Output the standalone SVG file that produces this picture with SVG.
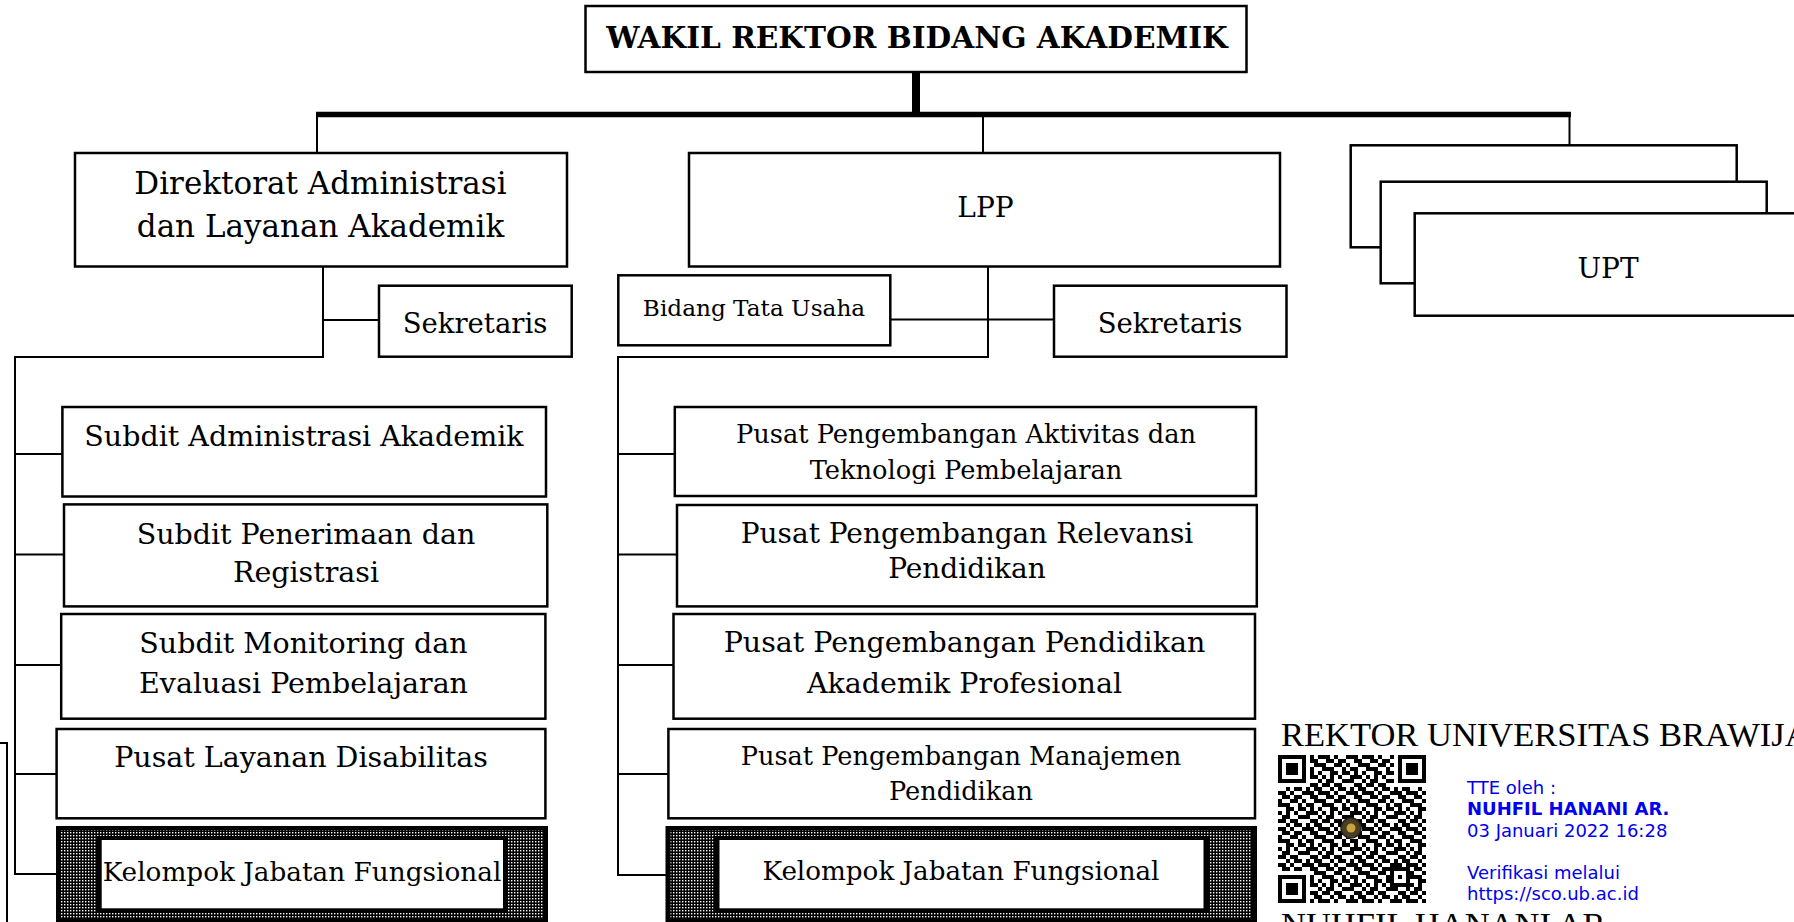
<svg xmlns="http://www.w3.org/2000/svg" width="1794" height="922" viewBox="0 0 1794 922">
<style>
.box{fill:#fff;stroke:#000;stroke-width:2.5}
.ln{stroke:#000;stroke-width:2;fill:none}
.t{font-family:"DejaVu Serif",serif;fill:#000;text-anchor:middle}
.s28{font-size:28.5px}
.s25{font-size:25.7px}
.sig{font-family:"Liberation Serif",serif;font-size:34.5px;fill:#000}
.blue{font-family:"DejaVu Sans",sans-serif;font-size:18px;fill:#0000ee}
</style>
<defs>
<pattern id="ht" width="3" height="3" patternUnits="userSpaceOnUse"><rect width="3" height="3" fill="#000"/><rect x="1" y="1" width="1.4" height="1.4" fill="#fff"/></pattern>
<pattern id="qr" width="44" height="36" patternUnits="userSpaceOnUse" x="1278" y="755"><path fill="#000" d="M0 0h8v4h-8z M12 0h4v4h-4z M24 0h12v4h-12z M40 0h4v4h-4z M4 4h8v4h-8z M16 4h8v4h-8z M32 4h8v4h-8z M0 8h4v4h-4z M12 8h8v4h-8z M24 8h4v4h-4z M36 8h8v4h-8z M0 12h12v4h-12z M20 12h4v4h-4z M28 12h8v4h-8z M8 16h8v4h-8z M20 16h8v4h-8z M32 16h4v4h-4z M40 16h4v4h-4z M0 20h4v4h-4z M8 20h4v4h-4z M16 20h4v4h-4z M28 20h12v4h-12z M4 24h8v4h-8z M20 24h12v4h-12z M40 24h4v4h-4z M0 28h8v4h-8z M12 28h8v4h-8z M32 28h8v4h-8z M8 32h4v4h-4z M16 32h8v4h-8z M28 32h4v4h-4z M36 32h8v4h-8z"/></pattern>
</defs>
<rect width="1794" height="922" fill="#fff"/>

<g id="connectors">
<rect x="912" y="72" width="8" height="44" fill="#000"/>
<line x1="316" y1="114.5" x2="1571" y2="114.5" stroke="#000" stroke-width="5.5"/>
<line class="ln" x1="317" y1="117" x2="317" y2="153"/>
<line class="ln" x1="983" y1="117" x2="983" y2="153"/>
<line class="ln" x1="1569.5" y1="117" x2="1569.5" y2="145.5"/>
<path class="ln" d="M323 267V357H14 M323 320H379 M15 357V875"/>
<path class="ln" d="M15 454H62 M15 554.6H64 M15 665H61 M15 774H57 M15 874H56"/>
<path class="ln" d="M988 267V357H617 M890 319.5H1054 M618 357V876"/>
<path class="ln" d="M618 454H675 M618 554.6H677 M618 665H673.5 M618 774H668 M618 875H666"/>
<path class="ln" d="M0 743H7V922"/>
</g>

<g id="wakil">
<rect class="box" x="585.5" y="6" width="661" height="66"/>
<text class="t" x="917" y="48" font-size="29.6" font-weight="bold">WAKIL REKTOR BIDANG AKADEMIK</text>
</g>

<g id="direktorat">
<rect class="box" x="75" y="153" width="492" height="113.5"/>
<text class="t" x="320.5" y="194.3" font-size="31">Direktorat Administrasi</text>
<text class="t" x="320.5" y="237.3" font-size="31">dan Layanan Akademik</text>
</g>

<g id="sekretaris-dir">
<rect class="box" x="379" y="285.7" width="192.7" height="71"/>
<text class="t" x="475" y="333" font-size="27.5">Sekretaris</text>
</g>

<g id="lpp">
<rect class="box" x="689" y="153" width="591" height="113.5"/>
<text class="t" x="985.5" y="217" font-size="28">LPP</text>
</g>

<g id="bidang-tata-usaha">
<rect class="box" x="618.3" y="275.3" width="272" height="70"/>
<text class="t" x="754" y="316" font-size="23.2">Bidang Tata Usaha</text>
</g>

<g id="sekretaris-lpp">
<rect class="box" x="1054" y="285.7" width="232.5" height="71"/>
<text class="t" x="1170" y="333" font-size="27.5">Sekretaris</text>
</g>

<g id="upt">
<rect class="box" x="1350.7" y="145.3" width="386" height="102"/>
<rect class="box" x="1380.7" y="181.7" width="386" height="101.6"/>
<rect class="box" x="1414.7" y="213.3" width="400" height="102.4"/>
<text class="t" x="1608" y="278" font-size="28">UPT</text>
</g>

<g id="subdit-administrasi">
<rect class="box" x="62.4" y="407" width="483.6" height="89.5"/>
<text class="t s28" x="304" y="445.7">Subdit Administrasi Akademik</text>
</g>

<g id="subdit-penerimaan">
<rect class="box" x="64" y="504.4" width="483.3" height="102"/>
<text class="t s28" x="306" y="544.2">Subdit Penerimaan dan</text>
<text class="t s28" x="306" y="582.2">Registrasi</text>
</g>

<g id="subdit-monitoring">
<rect class="box" x="61.2" y="614" width="484.2" height="104.7"/>
<text class="t s28" x="303.5" y="653">Subdit Monitoring dan</text>
<text class="t s28" x="303.5" y="692.8">Evaluasi Pembelajaran</text>
</g>

<g id="pusat-layanan-disabilitas">
<rect class="box" x="56.6" y="729" width="488.8" height="89.3"/>
<text class="t s28" x="301" y="767">Pusat Layanan Disabilitas</text>
</g>

<g id="kelompok-dir">
<rect x="56" y="826" width="492" height="96" fill="#000"/>
<rect x="60" y="830" width="484" height="88" fill="url(#ht)"/>
<rect x="96.7" y="836" width="411.3" height="76.7" fill="#000"/>
<rect x="101.7" y="840" width="401.3" height="68.3" fill="#fff"/>
<text class="t" x="302" y="881" font-size="26.3">Kelompok Jabatan Fungsional</text>
</g>

<g id="pusat-aktivitas">
<rect class="box" x="674.8" y="407" width="581.2" height="89"/>
<text class="t s25" x="966" y="443.3">Pusat Pengembangan Aktivitas dan</text>
<text class="t s25" x="966" y="478.5">Teknologi Pembelajaran</text>
</g>

<g id="pusat-relevansi">
<rect class="box" x="677" y="505" width="579.8" height="101.4"/>
<text class="t" x="967" y="542.5" font-size="28">Pusat Pengembangan Relevansi</text>
<text class="t" x="967" y="577.7" font-size="28">Pendidikan</text>
</g>

<g id="pusat-pendidikan-akademik">
<rect class="box" x="673.5" y="614" width="581.5" height="104.7"/>
<text class="t s28" x="964.5" y="652.4">Pusat Pengembangan Pendidikan</text>
<text class="t s28" x="964.5" y="692.8">Akademik Profesional</text>
</g>

<g id="pusat-manajemen">
<rect class="box" x="668.4" y="729" width="586.6" height="89.3"/>
<text class="t" x="961" y="765.4" font-size="25.6">Pusat Pengembangan Manajemen</text>
<text class="t" x="961" y="800" font-size="25.6">Pendidikan</text>
</g>

<g id="kelompok-lpp">
<rect x="665.5" y="826" width="591.5" height="96" fill="#000"/>
<rect x="670.5" y="830" width="581.5" height="88" fill="url(#ht)"/>
<rect x="713.5" y="836" width="496" height="76.7" fill="#000"/>
<rect x="719.5" y="840" width="484" height="68.3" fill="#fff"/>
<text class="t" x="961" y="880" font-size="26.2">Kelompok Jabatan Fungsional</text>
</g>

<g id="signature">
<text class="sig" x="1281" y="746">REKTOR UNIVERSITAS BRAWIJAYA</text>
<rect x="1278" y="755" width="148" height="148" fill="url(#qr)"/>
<rect x="1278" y="755" width="32" height="32" fill="#fff"/>
<rect x="1278" y="755" width="28" height="28" fill="#000"/>
<rect x="1282" y="759" width="20" height="20" fill="#fff"/>
<rect x="1286" y="763" width="12" height="12" fill="#000"/>
<rect x="1394" y="755" width="32" height="32" fill="#fff"/>
<rect x="1398" y="755" width="28" height="28" fill="#000"/>
<rect x="1402" y="759" width="20" height="20" fill="#fff"/>
<rect x="1406" y="763" width="12" height="12" fill="#000"/>
<rect x="1278" y="871" width="32" height="32" fill="#fff"/>
<rect x="1278" y="875" width="28" height="28" fill="#000"/>
<rect x="1282" y="879" width="20" height="20" fill="#fff"/>
<rect x="1286" y="883" width="12" height="12" fill="#000"/>
<rect x="1390" y="867" width="20" height="20" fill="#000"/>
<rect x="1394" y="871" width="12" height="12" fill="#fff"/>
<rect x="1398" y="875" width="4" height="4" fill="#000"/>
<circle cx="1351" cy="828" r="10" fill="#4a3e22" stroke="#222" stroke-width="1.5"/>
<circle cx="1351" cy="828" r="4.5" fill="#c9a23c"/>
<text class="blue" x="1467" y="794.3">TTE oleh :</text>
<text class="blue" x="1467" y="815" font-weight="bold">NUHFIL HANANI AR.</text>
<text class="blue" x="1467" y="836.7">03 Januari 2022 16:28</text>
<text class="blue" x="1467" y="879.3">Verifikasi melalui</text>
<text class="blue" x="1467" y="900">https://sco.ub.ac.id</text>
<text class="sig" x="1281" y="936">NUHFIL HANANI AR</text>
</g>
</svg>
